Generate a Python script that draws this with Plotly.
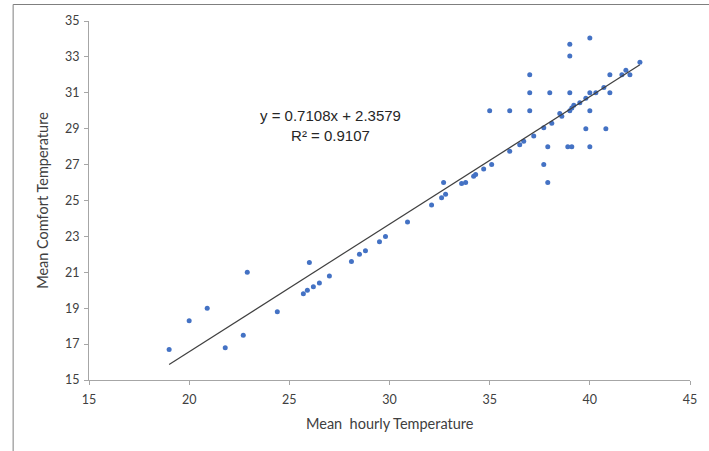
import plotly.graph_objects as go

# Mean hourly temperature (x) and mean comfort temperature (y)
hourly_temp = [
    19.0, 20.0, 20.9, 21.8, 22.7, 22.9, 24.4, 25.7, 25.9, 26.0,
    26.2, 26.5, 27.0, 28.1, 28.5, 28.8, 29.5, 29.8, 30.9, 32.1,
    32.6, 32.7, 32.8, 33.6, 33.8, 34.2, 34.3, 34.7, 35.0, 35.1,
    36.0, 36.0, 36.5, 36.7, 37.0, 37.0, 37.0, 37.2, 37.7, 37.7,
    37.9, 37.9, 38.0, 38.1, 38.5, 38.6, 38.9, 39.0, 39.0, 39.0,
    39.0, 39.1, 39.1, 39.2, 39.5, 39.8, 39.8, 40.0, 40.0, 40.0,
    40.0, 40.3, 40.7, 40.8, 41.0, 41.0, 41.6, 41.8, 42.0, 42.5,
]
comfort_temp = [
    16.7, 18.3, 19.0, 16.8, 17.5, 21.0, 18.8, 19.8, 20.0, 21.55,
    20.2, 20.4, 20.8, 21.6, 22.0, 22.2, 22.7, 23.0, 23.8, 24.75,
    25.15, 26.0, 25.35, 25.95, 26.0, 26.35, 26.45, 26.75, 30.0, 27.0,
    30.0, 27.75, 28.1, 28.3, 32.0, 31.0, 30.0, 28.6, 29.05, 27.0,
    28.0, 26.0, 31.0, 29.3, 29.85, 29.7, 28.0, 33.7, 33.05, 31.0,
    30.0, 28.0, 30.15, 30.3, 30.45, 30.7, 29.0, 34.05, 31.0, 30.0,
    28.0, 31.0, 31.3, 29.0, 32.0, 31.0, 32.0, 32.25, 32.0, 32.7,
]

# Linear trendline reported on the chart
SLOPE = 0.7108
INTERCEPT = 2.3579
R2 = 0.9107

x_ticks = [15, 20, 25, 30, 35, 40, 45]
y_ticks = [15, 17, 19, 21, 23, 25, 27, 29, 31, 33, 35]

x_min, x_max = min(hourly_temp), max(hourly_temp)
trend_x = [x_min, x_max]
trend_y = [SLOPE * v + INTERCEPT for v in trend_x]

fig = go.Figure()
fig.add_trace(go.Scatter(
    x=hourly_temp, y=comfort_temp, mode="markers",
    marker=dict(color="#4472C4", size=5, line=dict(width=0)),
    showlegend=False, hoverinfo="x+y",
))
fig.add_trace(go.Scatter(
    x=trend_x, y=trend_y, mode="lines",
    line=dict(color="#404040", width=1.2),
    showlegend=False, hoverinfo="skip",
))

tick_font = dict(family="Lato, Liberation Sans, sans-serif", size=12.5, color="#404040")
axis_common = dict(
    showgrid=False, zeroline=False, showline=True, linecolor="#a6a6a6", linewidth=1,
    ticks="outside", ticklen=4, tickcolor="#a6a6a6", tickwidth=1,
    tickfont=tick_font, mirror=False,
)

fig.update_layout(
    width=709, height=451,
    margin=dict(l=89, r=14, t=21, b=71),
    paper_bgcolor="white", plot_bgcolor="white",
    xaxis=dict(range=[15, 45], tickvals=x_ticks, ticklabelstandoff=4, **axis_common),
    yaxis=dict(range=[15, 35], tickvals=y_ticks, ticklabelstandoff=2, **axis_common),
    annotations=[
        dict(x=27.05, y=29.18, xref="x", yref="y",
             text=f"y = {SLOPE}x + {INTERCEPT}<br>R² = {R2}",
             showarrow=False, xanchor="center", yanchor="middle", align="center",
             font=dict(family="Liberation Sans, Arial, sans-serif", size=15, color="#262626")),
        dict(x=0.5, y=-0.122, xref="paper", yref="paper",
             text="Mean  hourly Temperature", showarrow=False,
             xanchor="center", yanchor="middle",
             font=dict(family="Lato, Liberation Sans, sans-serif", size=14.5, color="#404040")),
        dict(x=-0.0776, y=0.5, xref="paper", yref="paper",
             text="Mean Comfort Temperature", showarrow=False, textangle=-90,
             xanchor="center", yanchor="middle",
             font=dict(family="Lato, Liberation Sans, sans-serif", size=14.5, color="#404040")),
    ],
    shapes=[
        dict(type="rect", xref="paper", yref="paper",
             x0=-0.12624, x1=1.05, y0=-0.25, y1=1.04596,
             line=dict(color="#7f7f7f", width=1), fillcolor="rgba(0,0,0,0)", layer="above"),
    ],
)

fig.write_html(
    "out.html",
    config={"displayModeBar": False},
    post_script="document.body.style.margin='0';document.body.style.padding='0';",
)
